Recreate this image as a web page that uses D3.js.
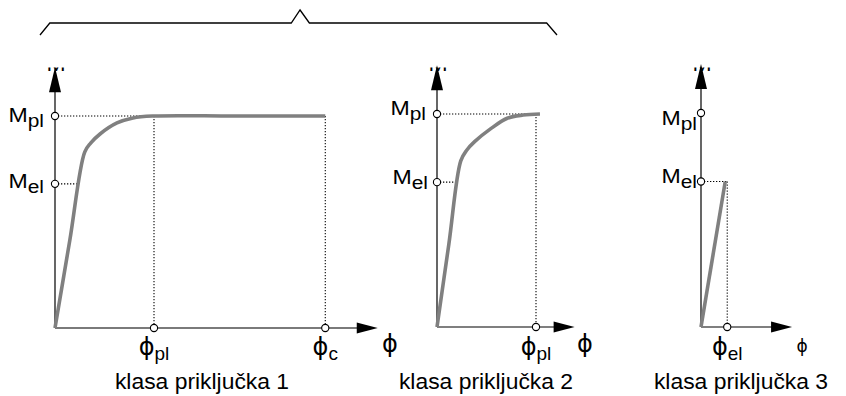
<!DOCTYPE html>
<html>
<head>
<meta charset="utf-8">
<script src="https://cdn.jsdelivr.net/npm/d3@7"></script>
<style>
  body { margin: 0; background: #fff; }
  text { font-family: "Liberation Sans", Arial, sans-serif; fill: #000; }
  .phi { font-family: "DejaVu Sans", sans-serif; }
</style>
</head>
<body>
<div id="chart"></div>
<script>
var svgWidth = 846;
var svgHeight = 396;

// moment levels (Mpl = 1)
var momentNames = ["pl", "el"];
var momentValues = [1, 0.68];

// rotation ticks per class (phi_pl = 1)
var panelTitles = ["klasa priključka 1", "klasa priključka 2", "klasa priključka 3"];
var phiTicks1 = [{ name: "pl", v: 1 }, { name: "c", v: 2.73 }];
var phiTicks2 = [{ name: "pl", v: 1 }];
var phiTicks3 = [{ name: "el", v: 0.265 }];

// M-phi curves
var curve1 = [[0, 0], [0.15, 0.415], [0.30, 0.83], [0.36, 0.872], [0.455, 0.915],
  [0.626, 0.967], [0.788, 0.991], [1, 1], [1.8, 1], [2.73, 1]];
var curve2 = [[0, 0], [0.12, 0.39], [0.24, 0.78], [0.30, 0.83], [0.38, 0.87], [0.54, 0.93],
  [0.71, 0.98], [0.87, 0.995], [1.04, 1]];
var curve3 = [[0, 0], [0.245, 0.68]];

// layout of the three panels
var panels = [
  { x0: 55, y0: 328, yPl: 116, xEnd: 3.26, ticks: phiTicks1, curve: curve1, smooth: true,
    axisGrey: true, titleX: 202, phiX: 390, phiSize: 24,
    labelDx: [-11, -11], labelDy: [6, 4], dotEl: 0.242 },
  { x0: 437, y0: 327, yPl: 114, xEnd: 1.39, ticks: phiTicks2, curve: curve2, smooth: true,
    axisGrey: false, titleX: 486, phiX: 585, phiSize: 24,
    labelDx: [-11, -9], labelDy: [1, 2], dotEl: 0.21 },
  { x0: 701, y0: 327, yPl: 113, xEnd: 0.92, ticks: phiTicks3, curve: curve3, smooth: false,
    axisGrey: false, titleX: 741, phiX: 802, phiSize: 17,
    labelDx: [-4, -4], labelDy: [12, 2], dotEl: 0.265 }
];
var unitPx = 99;
var yTopValue = 1.22;

var svg = d3.select("#chart")
  .append("svg")
  .attr("width", svgWidth)
  .attr("height", svgHeight);

// clip for the cut "M" at the top of each moment axis
svg.append("clipPath").attr("id", "topclip")
  .append("rect").attr("x", 0).attr("y", 67.5).attr("width", svgWidth).attr("height", 8);

// brace over classes 1 and 2
var braceX = d3.scaleLinear().domain([0, 1]).range([40, 557]);
var braceY = d3.scaleLinear().domain([0, 1]).range([35, 10]);
var braceShape = [[0, 0], [0.019, 0.48], [0.486, 0.48], [0.503, 1], [0.521, 0.48], [0.98, 0.48], [1, 0]];
svg.append("path")
  .attr("d", d3.line().x(d => braceX(d[0])).y(d => braceY(d[1]))(braceShape))
  .attr("fill", "none")
  .attr("stroke", "#000")
  .attr("stroke-width", 1.3);

function label(g, x, y, main, sub, size, subSize, anchor, sx, cls) {
  var t = g.append("g")
    .attr("transform", `translate(${x},${y}) scale(${sx},1)`)
    .append("text")
    .attr("text-anchor", anchor)
    .attr("font-size", size);
  t.append("tspan").attr("class", cls || null).text(main);
  if (sub) t.append("tspan").attr("font-size", subSize).attr("dy", 5).text(sub);
  return t;
}

panels.forEach(function(p, i) {
  var x = d3.scaleLinear().domain([0, 1]).range([p.x0, p.x0 + unitPx]);
  var y = d3.scaleLinear().domain([0, 1]).range([p.y0, p.yPl]);
  var g = svg.append("g");

  // cut-off "M" behind the arrow head
  g.append("g").attr("clip-path", "url(#topclip)")
    .append("g").attr("transform", `translate(${x(0) + 1},71) scale(1.15,1)`)
    .append("text").attr("text-anchor", "middle").attr("font-size", 20).text("M");

  // moment axis
  var yTip = y(yTopValue);
  g.append("line")
    .attr("x1", x(0)).attr("x2", x(0))
    .attr("y1", y(0)).attr("y2", yTip + 20)
    .attr("stroke", "#000").attr("stroke-width", 1.2);
  g.append("path")
    .attr("d", `M${x(0)},${yTip - 2} L${x(0) - 6},${yTip + 23} L${x(0) + 6},${yTip + 23} Z`)
    .attr("fill", "#000");

  // rotation axis
  var xTip = x(p.xEnd);
  g.append("line")
    .attr("x1", x(0)).attr("x2", xTip - 18)
    .attr("y1", y(0)).attr("y2", y(0))
    .attr("stroke", p.axisGrey ? "#7a7a7a" : "#000")
    .attr("stroke-width", p.axisGrey ? 2.2 : 1.2);
  g.append("path")
    .attr("d", `M${xTip},${y(0)} L${xTip - 21},${y(0) - 5.5} L${xTip - 21},${y(0) + 5.5} Z`)
    .attr("fill", "#000");

  // dotted guide lines
  var dots = [];
  if (i < 2) {
    dots.push([[0, 1], [p.ticks[0].v, 1]]);
    dots.push([[0, momentValues[1]], [p.dotEl, momentValues[1]]]);
    p.ticks.forEach(t => dots.push([[t.v, 1], [t.v, 0]]));
  } else {
    dots.push([[0, momentValues[1]], [p.dotEl, momentValues[1]]]);
    dots.push([[p.dotEl, momentValues[1]], [p.dotEl, 0]]);
  }
  g.selectAll(".guide")
    .data(dots)
    .enter()
    .append("line")
    .attr("x1", d => x(d[0][0])).attr("y1", d => y(d[0][1]))
    .attr("x2", d => x(d[1][0])).attr("y2", d => y(d[1][1]))
    .attr("stroke", "#000")
    .attr("stroke-width", 1.1)
    .attr("stroke-dasharray", "1.3,1.7");

  // M-phi curve
  var line = d3.line()
    .x(d => x(d[0]))
    .y(d => y(d[1]))
    .curve(p.smooth ? d3.curveCatmullRom.alpha(0.5) : d3.curveLinear);
  g.append("path")
    .attr("d", line(p.curve))
    .attr("fill", "none")
    .attr("stroke", "#808080")
    .attr("stroke-width", 3.6)
    .attr("stroke-linejoin", "round");

  // open circles on the axes
  var circ = momentValues.map(v => [0, v]).concat(p.ticks.map(t => [t.v, 0]));
  g.selectAll(".mark")
    .data(circ)
    .enter()
    .append("circle")
    .attr("cx", d => x(d[0]))
    .attr("cy", d => y(d[1]))
    .attr("r", 3.6)
    .attr("fill", "#fff")
    .attr("stroke", "#000")
    .attr("stroke-width", 1.1);

  // moment labels
  momentValues.forEach(function(v, k) {
    label(g, x(0) + p.labelDx[k], y(v) + p.labelDy[k], "M", momentNames[k], 21, 19, "end", 1.1);
  });

  // rotation tick labels
  p.ticks.forEach(function(t) {
    label(g, x(t.v), 355, "\u03D5", t.name, 24, 19, "middle", 1.0, "phi");
  });

  // axis name
  label(g, p.phiX, 352, "\u03D5", null, p.phiSize, 0, "middle", 1.0, "phi");

  // class title
  g.append("g")
    .attr("transform", `translate(${p.titleX},389) scale(1.04,1)`)
    .append("text")
    .attr("text-anchor", "middle")
    .attr("font-size", 22)
    .text(panelTitles[i]);
});
</script>
</body>
</html>
